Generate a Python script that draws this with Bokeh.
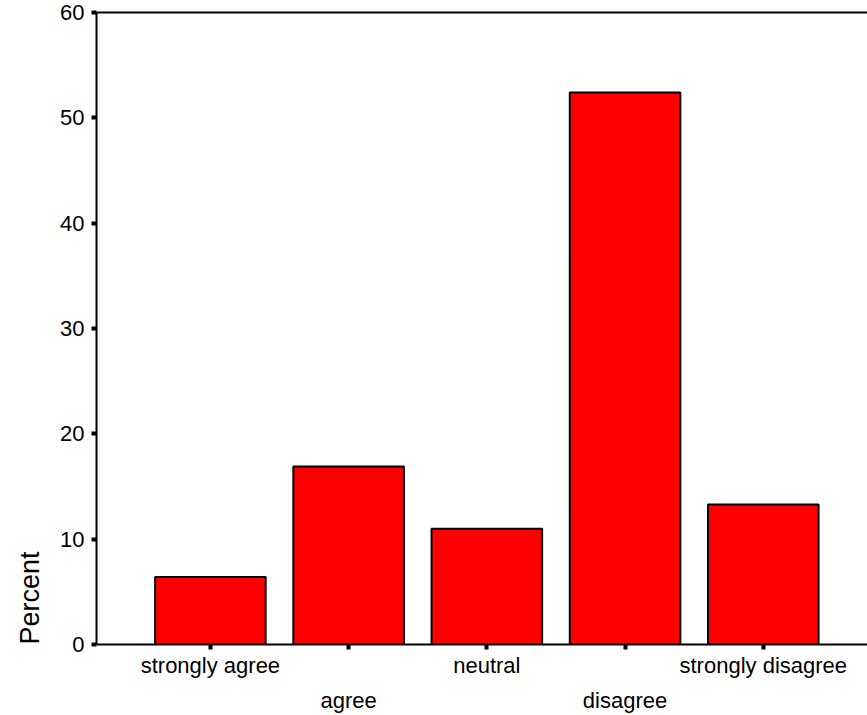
from bokeh.plotting import figure
from bokeh.models import Range1d, FixedTicker, LinearAxis, Title, ColumnDataSource
from bokeh.embed import file_html
from bokeh.resources import INLINE

categories = ["strongly agree", "agree", "neutral", "disagree", "strongly disagree"]
percent = [6.4, 16.9, 11.0, 52.4, 13.3]
y_ticks = [0, 10, 20, 30, 40, 50, 60]
positions = [1, 2, 3, 4, 5]

FONT = "Liberation Sans"
TICK_FS = "22px"

p = figure(width=867, height=715, output_backend="svg", toolbar_location=None,
           x_range=Range1d(0.176, 5.754), y_range=Range1d(0, 60),
           min_border_left=95, min_border_right=0, min_border_top=12, min_border_bottom=71,
           x_axis_type=None, y_axis_type=None)
p.outline_line_color = None
p.grid.visible = False
p.background_fill_color = "white"
p.border_fill_color = "white"

src = ColumnDataSource(dict(x=positions, top=percent))
p.vbar(x="x", top="top", bottom=0, width=0.8, source=src,
       fill_color="#FF0000", line_color="black", line_width=2)

# left axis
ya = LinearAxis(ticker=FixedTicker(ticks=y_ticks))
ya.axis_line_width = 2
ya.axis_line_color = "black"
ya.major_tick_line_width = 4
ya.major_tick_line_color = "black"
ya.major_tick_out = 5
ya.major_tick_in = 0
ya.minor_tick_line_color = None
ya.major_label_text_font = FONT
ya.major_label_text_font_size = TICK_FS
ya.major_label_text_color = "black"
ya.major_label_standoff = 7
p.add_layout(ya, "left")

# y axis title, placed at the bottom of the axis
yt = Title(text="Percent", align="left", text_font=FONT, text_font_size="27px",
           text_font_style="normal", text_color="black", standoff=25)
p.add_layout(yt, "left")

# bottom axis (odd labels)
xa = LinearAxis(ticker=FixedTicker(ticks=positions))
xa.major_label_overrides = {pos: (cat if i % 2 == 0 else "") for i, (pos, cat) in enumerate(zip(positions, categories))}
xa.axis_line_width = 2
xa.axis_line_color = "black"
xa.major_tick_line_width = 4
xa.major_tick_line_color = "black"
xa.major_tick_out = 5
xa.major_tick_in = 0
xa.minor_tick_line_color = None
xa.major_label_text_font = FONT
xa.major_label_text_font_size = TICK_FS
xa.major_label_text_color = "black"
xa.major_label_standoff = 3
p.add_layout(xa, "below")

# second row of labels (even)
xb = LinearAxis(ticker=FixedTicker(ticks=[positions[1], positions[3]]))
xb.major_label_overrides = {positions[1]: categories[1], positions[3]: categories[3]}
xb.axis_line_color = None
xb.major_tick_line_color = None
xb.minor_tick_line_color = None
xb.major_tick_out = 0
xb.major_tick_in = 0
xb.major_label_text_font = FONT
xb.major_label_text_font_size = TICK_FS
xb.major_label_text_color = "black"
xb.major_label_standoff = 7
p.add_layout(xb, "below")

# top line
xt = LinearAxis(ticker=FixedTicker(ticks=[]))
xt.axis_line_width = 2
xt.axis_line_color = "black"
xt.major_tick_line_color = None
xt.minor_tick_line_color = None
xt.major_tick_out = 0
xt.major_tick_in = 0
xt.major_label_text_font_size = "0px"
xt.major_label_standoff = 0
p.add_layout(xt, "above")

open("out.html", "w").write(file_html(p, INLINE))
